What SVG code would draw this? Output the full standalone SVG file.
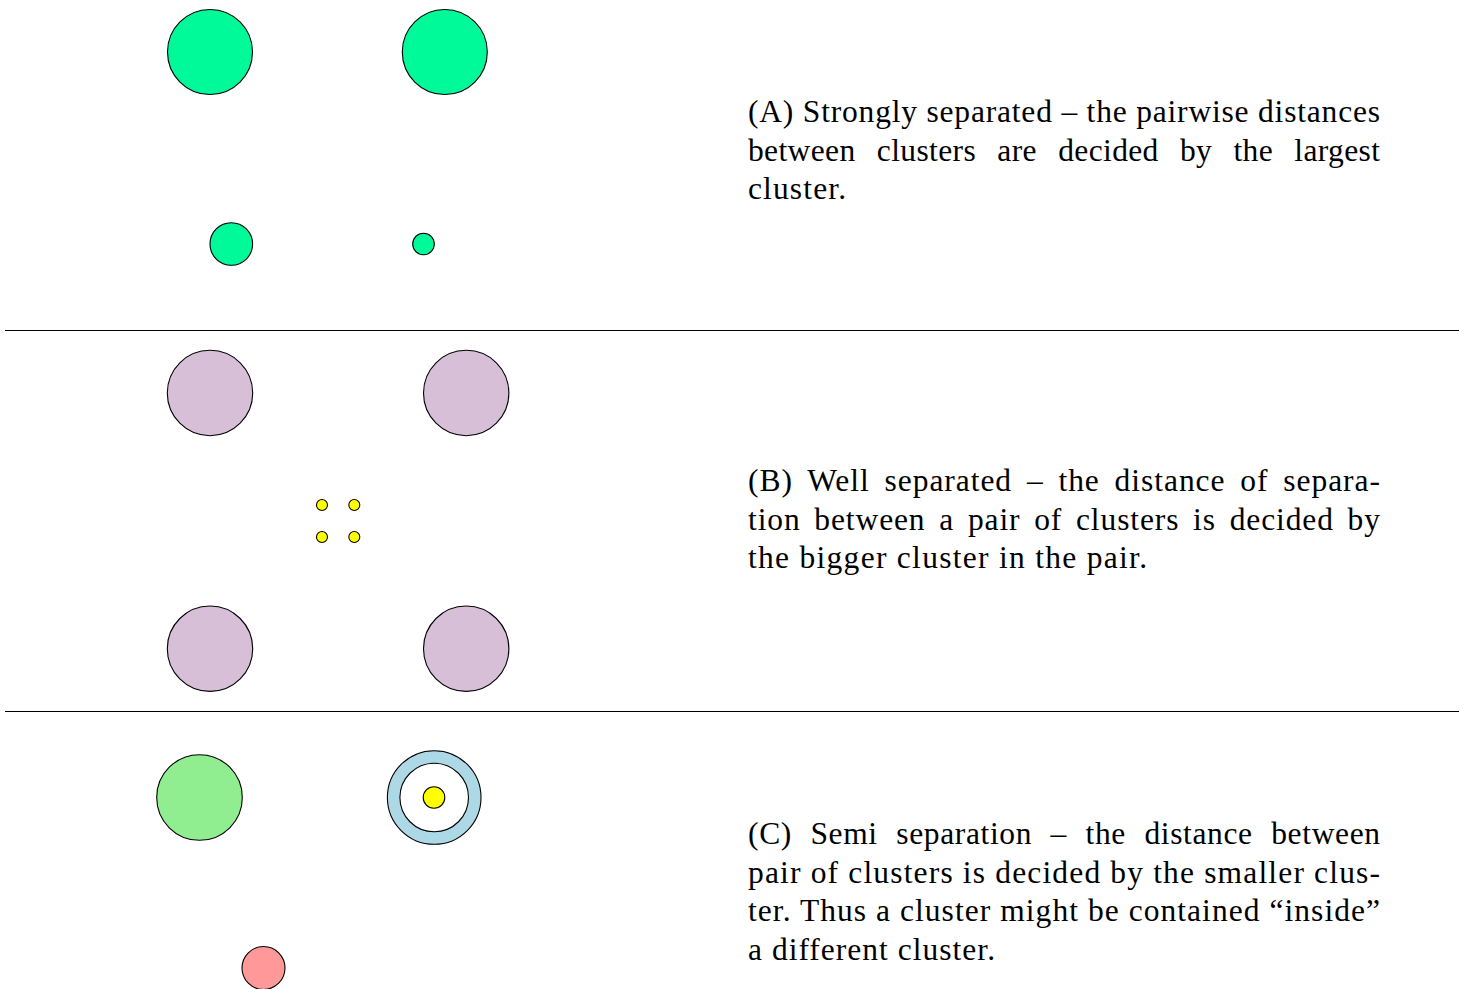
<svg xmlns="http://www.w3.org/2000/svg" width="1460" height="989" viewBox="0 0 1460 989">
<style>
.c{stroke:#000;stroke-width:1.1}
.sg{fill:#00FA9A}
.th{fill:#D8BFD8}
.ye{fill:#FFFF00}
.lg{fill:#90EE90}
.lb{fill:#ADD8E6}
.rd{fill:#FF9999}
.t{font-family:"Liberation Serif","Times New Roman",serif;font-size:31.5px;fill:#000}
.sep{stroke:#000;stroke-width:1}
</style>
<rect width="1460" height="989" fill="#fff"/>
<g id="separators">
<line class="sep" x1="5" y1="330.5" x2="1459" y2="330.5"/>
<line class="sep" x1="5" y1="711.5" x2="1459" y2="711.5"/>
</g>
<g id="panelA">
<circle class="c sg" cx="210" cy="52" r="42.5"/>
<circle class="c sg" cx="444.8" cy="52" r="42.5"/>
<circle class="c sg" cx="231.3" cy="244" r="21.3"/>
<circle class="c sg" cx="423.5" cy="244" r="10.8"/>
</g>
<g id="panelB">
<circle class="c th" cx="210" cy="393" r="42.7"/>
<circle class="c th" cx="466.2" cy="393" r="42.7"/>
<circle class="c th" cx="210" cy="648.7" r="42.7"/>
<circle class="c th" cx="466.2" cy="648.7" r="42.7"/>
<circle class="c ye" cx="322" cy="505" r="5.5"/>
<circle class="c ye" cx="354.3" cy="505" r="5.5"/>
<circle class="c ye" cx="322" cy="537" r="5.5"/>
<circle class="c ye" cx="354.3" cy="537" r="5.5"/>
</g>
<g id="panelC">
<circle class="c lg" cx="199.5" cy="797.5" r="42.8"/>
<circle class="c lb" cx="434.2" cy="797.5" r="46.8"/>
<circle class="c" fill="#fff" cx="434.2" cy="797.5" r="34.3"/>
<circle class="c ye" cx="434" cy="797.5" r="10.8"/>
<circle class="c rd" cx="263.5" cy="968" r="21.5"/>
</g>
<g id="textA" class="t">
<text x="748" y="122" textLength="632" lengthAdjust="spacing">(A) Strongly separated – the pairwise distances</text>
<text x="748" y="160.5" textLength="632" lengthAdjust="spacing" word-spacing="13">between clusters are decided by the largest</text>
<text x="748" y="199" textLength="98" lengthAdjust="spacing">cluster.</text>
</g>
<g id="textB" class="t">
<text x="748" y="491" textLength="632" lengthAdjust="spacing" word-spacing="6">(B) Well separated – the distance of separa-</text>
<text x="748" y="530" textLength="632" lengthAdjust="spacing" word-spacing="5">tion between a pair of clusters is decided by</text>
<text x="748" y="568" textLength="399" lengthAdjust="spacing">the bigger cluster in the pair.</text>
</g>
<g id="textC" class="t">
<text x="748" y="844" textLength="632" lengthAdjust="spacing" word-spacing="10">(C) Semi separation – the distance between</text>
<text x="748" y="882.5" textLength="632" lengthAdjust="spacing">pair of clusters is decided by the smaller clus-</text>
<text x="748" y="921" textLength="632" lengthAdjust="spacing">ter. Thus a cluster might be contained “inside”</text>
<text x="748" y="960" textLength="247" lengthAdjust="spacing">a different cluster.</text>
</g>
</svg>
